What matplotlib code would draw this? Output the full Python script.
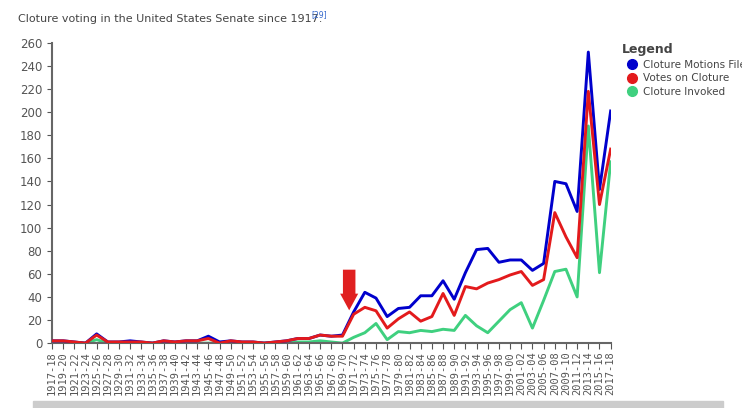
import matplotlib
matplotlib.use("Agg")
import matplotlib.pyplot as plt
from matplotlib.lines import Line2D
from matplotlib.patches import Rectangle

# Congress periods 1917-18 .. 2017-18
congresses = [f"{y}-{str(y + 1)[-2:]}" for y in range(1917, 2018, 2)]

motions_filed = [2, 2, 1, 0, 8, 1, 1, 2, 1, 0, 2, 1, 2, 2, 6, 1, 2, 1, 1, 0,
                 1, 2, 4, 4, 7, 6, 7, 27, 44, 39, 23, 30, 31, 41, 41, 54, 38,
                 61, 81, 82, 70, 72, 72, 63, 69, 140, 138, 114, 252, 133, 201]
votes_on_cloture = [2, 2, 1, 0, 7, 1, 1, 1, 1, 0, 2, 1, 2, 2, 4, 0, 2, 1, 1, 0,
                    1, 2, 4, 4, 7, 6, 6, 25, 31, 28, 13, 21, 27, 19, 23, 43, 24,
                    49, 47, 52, 55, 59, 62, 50, 55, 113, 92, 74, 218, 120, 168]
cloture_invoked = [0, 1, 0, 0, 3, 0, 0, 0, 0, 0, 0, 0, 0, 0, 0, 0, 0, 0, 0, 0,
                   0, 0, 1, 1, 2, 1, 0, 5, 9, 17, 3, 10, 9, 11, 10, 12, 11,
                   24, 15, 9, 19, 29, 35, 13, 37, 62, 64, 40, 188, 61, 157]

BLUE, RED, GREEN = "#0000cc", "#e31a1c", "#3fd07f"
GREY = "#555555"

fig = plt.figure(figsize=(7.42, 4.08), dpi=100)
ax = fig.add_axes([0.070, 0.159, 0.753, 0.736])

x = list(range(len(congresses)))
ax.plot(x, cloture_invoked, color=GREEN, lw=2.1, zorder=2)
ax.plot(x, motions_filed, color=BLUE, lw=2.1, zorder=3)
ax.plot(x, votes_on_cloture, color=RED, lw=2.1, zorder=4)

ax.set_xlim(0, len(congresses) - 1)
ax.set_ylim(0, 260)
ax.set_yticks(range(0, 261, 20))
ax.set_xticks(x)
ax.set_xticklabels(congresses, rotation=90, fontsize=7.5, color=GREY,
                   family="DejaVu Sans Mono")
ax.tick_params(axis="y", labelsize=8.5, labelcolor=GREY, color=GREY)
ax.tick_params(axis="x", color=GREY, length=4, pad=2)
for s in ("top", "right"):
    ax.spines[s].set_visible(False)
for s in ("left", "bottom"):
    ax.spines[s].set_color("#666666")
    ax.spines[s].set_linewidth(1.5)

# red arrow marking 1969-70
ax.annotate("", xy=(26.6, 26), xytext=(26.6, 66),
            arrowprops=dict(arrowstyle="simple,head_width=1.3,head_length=1.2,tail_width=0.9",
                            color="#e02020", lw=0), zorder=6)

title = fig.text(0.024, 0.94, "Cloture voting in the United States Senate since 1917.",
                 fontsize=8, color="#444444", va="bottom")
fig.text(0.420, 0.952, "[29]", fontsize=5.5, color="#3366cc", va="bottom")

handles = [Line2D([], [], marker="o", ls="", color=c, markersize=7)
           for c in (BLUE, RED, GREEN)]
labels = ["Cloture Motions Filed", "Votes on Cloture", "Cloture Invoked"]
leg = fig.legend(handles, labels, title="Legend", loc="upper left",
                 bbox_to_anchor=(0.832, 0.905), frameon=False, fontsize=7.5,
                 handletextpad=0.1, labelspacing=0.35, borderaxespad=0,
                 alignment="left")
leg.get_title().set_fontweight("bold")
leg.get_title().set_fontsize(9)
leg.get_title().set_color("#444444")
for t in leg.get_texts():
    t.set_color("#444444")

# scrollbar strip at bottom
fig.patches.append(Rectangle((0.045, 0.0), 0.93, 0.018, transform=fig.transFigure,
                             color="#cccccc", zorder=0))

fig.savefig("out.png", dpi=100)
